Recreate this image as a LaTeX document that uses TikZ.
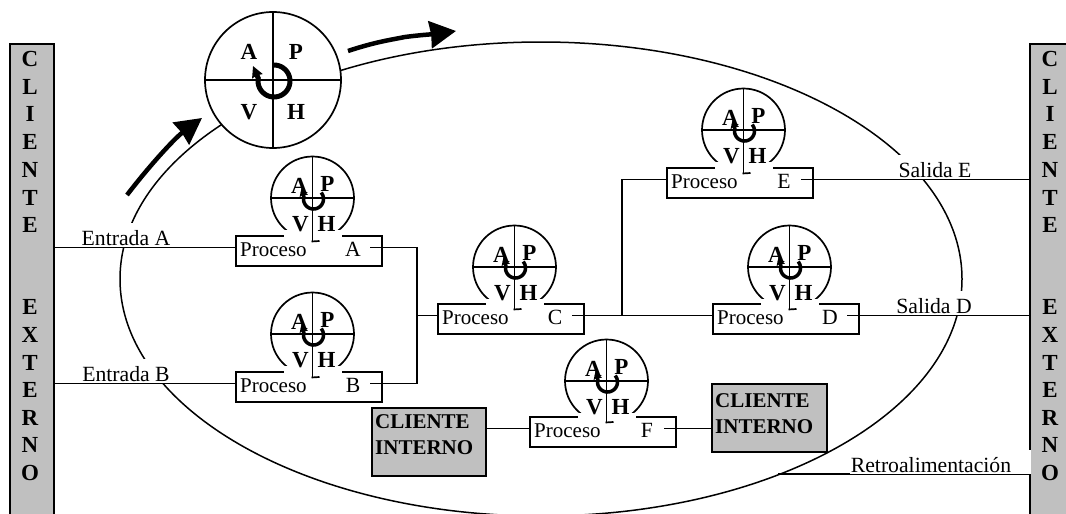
\documentclass[tikz,border=0pt]{standalone}
\usepackage{fontspec}
\setmainfont{Liberation Serif}
\usetikzlibrary{arrows.meta,calc}
\definecolor{bargray}{HTML}{C0C0C0}
\tikzset{
  ln/.style={line width=1.7pt,draw=black},
  bar/.style={ln,fill=bargray,rectangle,inner sep=0pt,anchor=north west},
  procbox/.style={ln,fill=white,rectangle,inner sep=0pt,minimum width=146pt,minimum height=30pt,anchor=north west},
  rm/.style={font=\fontsize{21.7}{21.7}\selectfont,inner sep=0pt,anchor=base},
  rmw/.style={font=\fontsize{21}{21}\selectfont,inner sep=0pt,anchor=base west},
  bf/.style={font=\fontsize{23}{23}\selectfont\bfseries,inner sep=0pt,anchor=base},
  cli/.style={font=\fontsize{21}{26}\selectfont\bfseries,inner sep=0pt,anchor=north west,align=left},
  clibox/.style={ln,fill=bargray,rectangle,inner sep=0pt,anchor=north west},
  mask/.style={fill=white,draw=none},
  ringline/.style={line cap=butt,-{Stealth[inset=1pt,length=#1,width=#1]}},
  bigarrow/.style={line width=4.5pt,-{Stealth[inset=1pt,length=26pt,width=27pt]}},
}
% name, box left, box top, letter, circle offset from top
\newcommand{\procunit}[5]{%
  \node[procbox] (#1) at (#2,#3) {};
  \pgfmathsetmacro{\cx}{#2+77.5}
  \pgfmathsetmacro{\cy}{#3-#5}
  \node[circle,ln,fill=white,minimum size=83pt,inner sep=0pt] (#1c) at (\cx,\cy) {};
  \fill[mask] (\cx-28.5,\cy+32) rectangle (\cx+29.5,#3+8);
  \draw[ln] (#1c.north) -- (\cx,#3+6.5);
  \draw[ln] (\cx-1,#3+6.5) -- (\cx+7,#3+6);
  \draw[ln] (#1c.west) -- (#1c.east);
  \node[bf] (#1la) at (\cx-13,\cy-5) {A};
  \node[bf] (#1lp) at (\cx+15,\cy-7) {P};
  \node[bf] (#1lv) at (\cx-12,\cy+33) {V};
  \node[bf] (#1lh) at (\cx+14,\cy+33) {H};
  \draw[line width=3.5pt,ringline=8pt] plot[smooth,domain=40:-195,samples=30] ({\cx+1+10*cos(\x)},{\cy+1-10*sin(\x)}) -- (\cx-11,\cy-10);
  \node[rmw] (#1t) at (#2+5,#3+21.5) {Proceso};
  \node[rm] (#1n) at (#2+118,#3+21.5) {#4};
  \coordinate (#1in) at (#2+135,#3+12.5);
  \coordinate (#1l) at (#2,#3+12.5);
}
\begin{document}
\begin{tikzpicture}[x=1pt,y=-1pt]
\clip (0,0) rectangle (1066,514);
% big ellipse
\draw[line width=1.5pt] (541,279) ellipse [x radius=421,y radius=237];
% customer bars
\node[bar,minimum width=44pt,minimum height=480pt] (lbar) at (9,43) {};
\node[bar,minimum width=50pt,minimum height=480pt] (rbar) at (1029,43) {};
\foreach \l/\y [count=\i] in {C/59,L/87,I/114,E/142,N/170,T/198,E/225,E/307,X/335,T/363,E/390,R/418,N/445,O/473}{
  \node[bf] (la\i) at (30,\y+7.5) {\l};
  \node[bf] (ra\i) at (1050,\y+7.5) {\l};
}
% process units
\procunit{pa}{235}{235}{A}{37}
\procunit{pb}{235}{371}{B}{37}
\procunit{pc}{437}{303}{C}{36}
\procunit{pd}{712}{303}{D}{36}
\procunit{pe}{666}{167}{E}{37}
\procunit{pf}{529}{416}{F}{35}
% internal customers
\node[clibox,minimum width=114pt,minimum height=68pt] (ci1) at (371,407) {};
\node[clibox,minimum width=115pt,minimum height=68pt] (ci2) at (711,383) {};
\node[cli] (ci1t) at (375,414) {CLIENTE\\INTERNO};
\node[cli] (ci2t) at (715,393) {CLIENTE\\INTERNO};
% connectors
\coordinate (junc) at (417,315.5);
\coordinate (split) at (622,315.5);
\draw[ln] (lbar.east |- pal) -- (pal);
\draw[ln] (lbar.east |- pbl) -- (pbl);
\draw[ln] (pain) -- (junc |- pain) -- (junc |- pbin) -- (pbin);
\draw[ln] (junc) -- (pcl);
\draw[ln] (pcin) -- (split) -- (pdl);
\draw[ln] (split) -- (split |- pel) -- (pel);
\draw[ln] (pein) -- (rbar.west |- pein);
\draw[ln] (pdin) -- (rbar.west |- pdin);
\draw[ln] (ci1.east |- pfl) -- (pfl);
\draw[ln] (pfin) -- (ci2.west |- pfin);
\coordinate (fb) at (778,474);
\draw[ln] (fb) -- (rbar.west |- fb);
% label masks and labels
\fill[mask] (77,223) rectangle (190,247.1);
\fill[mask] (77,359) rectangle (190,383.1);
\fill[mask] (893,155) rectangle (984,179.1);
\fill[mask] (893,291) rectangle (984,315.1);
\fill[mask] (850,450) rectangle (1030.5,473.6);
\node[rm] (ea) at (126,245) {Entrada A};
\node[rm] (eb) at (126,381) {Entrada B};
\node[rm] (se) at (935,177) {Salida E};
\node[rm] (sd) at (934,313) {Salida D};
\node[rm] (re) at (931,472) {Retroalimentación};
% big PDCA
\node[circle,ln,fill=white,minimum size=136pt,inner sep=0pt] (big) at (273,80) {};
\draw[ln] (big.north) -- (big.south);
\draw[ln] (big.west) -- (big.east);
\node[bf] (ba) at (249,59.5) {A};
\node[bf] (bp) at (296,59.5) {P};
\node[bf] (bv) at (249,119.5) {V};
\node[bf] (bh) at (296,119.5) {H};
\draw[line width=5pt,ringline=11pt] plot[smooth,domain=90:-190,samples=40] ({274+16*cos(\x)},{81-16*sin(\x)}) -- (253,66);
% big arrows
\coordinate (a1s) at (127,195);
\coordinate (a1e) at (202,118);
\coordinate (a2s) at (348,51);
\coordinate (a2e) at (456,31);
\draw[bigarrow] (a1s) .. controls (150,165) and (175,138) .. (a1e);
\draw[bigarrow] (a2s) .. controls (375,42) and (390,40) .. (405,37) .. controls (420,35) and (435,34) .. (a2e);
\end{tikzpicture}
\end{document}
